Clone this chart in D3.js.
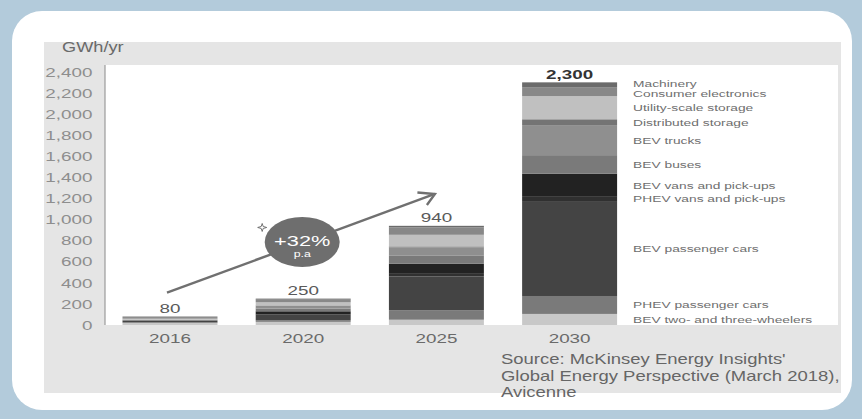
<!DOCTYPE html>
<html><head><meta charset="utf-8">
<script src="https://cdn.jsdelivr.net/npm/d3@7"></script>
<style>html,body{margin:0;padding:0;background:#b3cbdb;}svg{display:block;font-family:"Liberation Sans",Arial,sans-serif;}</style>
</head><body>
<svg id="chart" width="862" height="419"></svg>
<script>
// ---- data ----
const years = ["2016", "2020", "2025", "2030"];
const seriesNames = ["BEV two- and three-wheelers", "PHEV passenger cars", "BEV passenger cars",
  "PHEV vans and pick-ups", "BEV vans and pick-ups", "BEV buses", "BEV trucks",
  "Distributed storage", "Utility-scale storage", "Consumer electronics", "Machinery"];
const twoThree    = [20, 30, 50, 105];
const phevPass    = [5, 15, 90, 170];
const bevPass     = [15, 50, 320, 900];
const phevVans    = [0, 5, 25, 40];
const bevVans     = [0, 30, 95, 220];
const bevBuses    = [10, 25, 80, 175];
const bevTrucks   = [0, 25, 75, 285];
const distributed = [0, 5, 10, 55];
const utility     = [10, 30, 110, 220];
const consumer    = [15, 25, 70, 80];
const machinery   = [5, 10, 15, 50];
const yTicks = [0, 200, 400, 600, 800, 1000, 1200, 1400, 1600, 1800, 2000, 2200, 2400];
const unitLabel = "GWh/yr";
const growthLabel = "+32%";
const growthSub = "p.a";
const sourceLines = ["Source: McKinsey Energy Insights'", "Global Energy Perspective (March 2018),", "Avicenne"];

// ---- styles ----
const colors = ["#c8c8c8", "#7a7a7a", "#444444", "#303030", "#222222", "#7a7a7a", "#8f8f8f",
  "#747474", "#c0c0c0", "#888888", "#6b6b6b"];
const SX = 1.45;

const allSeries = [twoThree, phevPass, bevPass, phevVans, bevVans, bevBuses, bevTrucks,
  distributed, utility, consumer, machinery];
const table = years.map((yr, i) => {
  const row = { year: yr };
  seriesNames.forEach((n, k) => row[n] = allSeries[k][i]);
  return row;
});
const totals = years.map((yr, i) => d3.sum(allSeries, s => s[i]));

const svg = d3.select("#chart");

function txt(g, x, y, s, o) {
  o = o || {};
  return g.append("text")
    .attr("transform", `translate(${x},${y}) scale(${o.sx || SX},1)`)
    .attr("text-anchor", o.anchor || "start")
    .attr("font-size", o.size || 12)
    .attr("font-weight", o.weight || 400)
    .attr("fill", o.fill || "#666")
    .text(s);
}

// white rounded panel
svg.append("rect").attr("x", 12).attr("y", 11).attr("width", 840).attr("height", 399)
  .attr("rx", 30).attr("fill", "#ffffff");
// grey picture area
svg.append("rect").attr("x", 44).attr("y", 42).attr("width", 797).attr("height", 351).attr("fill", "#e5e5e5");
// white plot area
svg.append("rect").attr("x", 105).attr("y", 65).attr("width", 733).attr("height", 260).attr("fill", "#ffffff");

const y = d3.scaleLinear().domain([0, 2400]).range([325, 71.8]);
const x = d3.scaleBand().domain(years).range([122.5, 617.1]).paddingInner(0.287).paddingOuter(0);

// axis line
svg.append("line").attr("x1", 105).attr("x2", 105).attr("y1", 65).attr("y2", 325)
  .attr("stroke", "#9a9a9a").attr("stroke-width", 1.2);

// y tick labels (drawn from the scale)
const yAxis = svg.append("g");
yTicks.forEach(t => {
  txt(yAxis, 92.5, y(t) + 4.7, d3.format(",")(t), { anchor: "end", size: 13, fill: "#8e8e8e" });
});
txt(svg, 62, 52, unitLabel, { size: 14, sx: 1.3, fill: "#6a6a6a" });

// stacked bars
const stack = d3.stack().keys(seriesNames)(table);
svg.append("g").selectAll("g").data(stack).join("g")
  .attr("fill", (d, i) => colors[i])
  .selectAll("rect").data(d => d).join("rect")
  .attr("x", d => x(d.data.year))
  .attr("width", x.bandwidth())
  .attr("y", d => y(d[1]))
  .attr("height", d => Math.max(0, y(d[0]) - y(d[1])));

// totals
years.forEach((yr, i) => {
  txt(svg, x(yr) + x.bandwidth() / 2, y(totals[i]) - 3.5, d3.format(",")(totals[i]),
    { anchor: "middle", size: 13, fill: i === 3 ? "#333" : "#5a5a5a", weight: i === 3 ? 700 : 400 });
});

// year labels
years.forEach(yr => {
  txt(svg, x(yr) + x.bandwidth() / 2, 343, yr, { anchor: "middle", size: 13, fill: "#6a6a6a" });
});

// legend labels at 2030 segment centres
const last = years.length - 1;
let ly = stack.map(s => (y(s[last][0]) + y(s[last][1])) / 2);
for (let iter = 0; iter < 20; iter++) {
  for (let k = 0; k < ly.length - 1; k++) {
    const gap = ly[k] - ly[k + 1];
    if (gap < 10.3) { const m = (ly[k] + ly[k + 1]) / 2; ly[k] = m + 5.15; ly[k + 1] = m - 5.15; }
  }
}
const legX = x(years[last]) + x.bandwidth() + 16;
seriesNames.forEach((n, k) => {
  txt(svg, legX, ly[k] + 3.4, n, { size: 9.5, fill: "#6e6e6e" });
});

// growth arrow annotation
const a0 = [x("2016") + x.bandwidth() / 2 - 3, y(306)];
const a1 = [x("2025") + x.bandwidth() / 2 - 1.5, y(1242)];
svg.append("line").attr("x1", a0[0]).attr("y1", a0[1]).attr("x2", a1[0]).attr("y2", a1[1])
  .attr("stroke", "#707070").attr("stroke-width", 2.4);
svg.append("path")
  .attr("d", `M${a1[0] - 17.5},${a1[1] - 1.5} L${a1[0]},${a1[1]} L${a1[0] - 8},${a1[1] + 11}`)
  .attr("fill", "none").attr("stroke", "#707070").attr("stroke-width", 2.4)
  .attr("stroke-linejoin", "miter");

const cx = x("2020") + x.bandwidth() / 2 - 1, cy = y(787);
svg.append("ellipse").attr("cx", cx).attr("cy", cy).attr("rx", 37.5).attr("ry", 25).attr("fill", "#6e6e6e");
txt(svg, cx, cy + 4, growthLabel, { anchor: "middle", size: 14.5, sx: 1.5, fill: "#ffffff" });
txt(svg, cx, cy + 15.5, growthSub, { anchor: "middle", size: 8.5, sx: 1.45, fill: "#ffffff" });

// small sparkle symbol
const sx0 = cx - 40, sy0 = cy - 14.5;
svg.append("path")
  .attr("d", `M${sx0},${sy0 - 4} L${sx0 + 1},${sy0 - 1} L${sx0 + 4.5},${sy0} L${sx0 + 1},${sy0 + 1} L${sx0},${sy0 + 4} L${sx0 - 1},${sy0 + 1} L${sx0 - 4.5},${sy0} L${sx0 - 1},${sy0 - 1}Z`)
  .attr("fill", "#ffffff").attr("stroke", "#666").attr("stroke-width", 0.9);

// source
sourceLines.forEach((l, i) => {
  txt(svg, 501, 364 + i * 16.6, l, { size: 14, sx: 1.32, fill: "#666" });
});
</script>
</body></html>
